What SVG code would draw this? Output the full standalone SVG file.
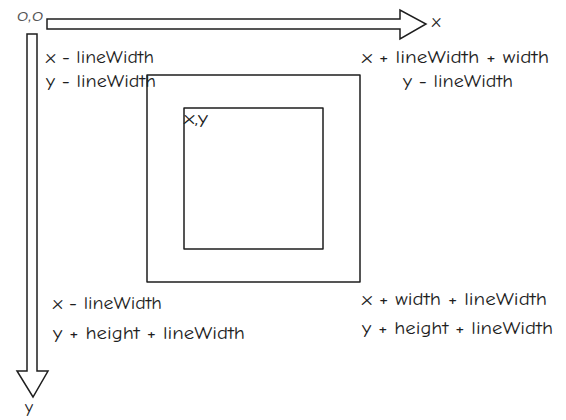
<svg xmlns="http://www.w3.org/2000/svg" width="566" height="420" viewBox="0 0 566 420">
  <style>
    .shape { fill: none; stroke: #1e1e1e; stroke-width: 1.5; stroke-linejoin: round; }
    .arrow { fill: #ffffff; stroke: #1e1e1e; stroke-width: 1.5; stroke-linejoin: miter; }
    .lbl { font-family: "Comic Neue", "Liberation Sans", Arial, sans-serif; font-size: 18px; fill: #1e1e1e; }
    .origin { font-family: "Liberation Sans", Arial, sans-serif; font-size: 12px; font-style: italic; fill: #555555; }
  </style>
  <rect width="566" height="420" fill="#ffffff"/>
  <g id="connectors">
    <g id="x-axis">
      <polygon class="arrow" points="47,19 400,19 400,10 426,24 400,39 400,29 47,29"/>
      <text class="lbl" x="432" y="27">x</text>
    </g>
    <g id="y-axis">
      <polygon class="arrow" points="27,34 37,34 37,371 48,371 33,397 17,371 27,371"/>
      <text class="lbl" x="25" y="413" font-size="20">y</text>
    </g>
  </g>
  <g id="origin">
    <text class="origin" x="17" y="21" textLength="26" lengthAdjust="spacingAndGlyphs">O,O</text>
  </g>
  <g id="outer-rect">
    <rect class="shape" x="147" y="75" width="213" height="207"/>
  </g>
  <g id="inner-rect">
    <rect class="shape" x="184" y="108" width="139" height="141"/>
    <text class="lbl" x="184" y="124" font-size="16" textLength="24" lengthAdjust="spacingAndGlyphs">x,y</text>
  </g>
  <g id="label-top-left">
    <text class="lbl" x="46" y="63" textLength="108" lengthAdjust="spacingAndGlyphs">x - lineWidth</text>
    <text class="lbl" x="46" y="87" textLength="110" lengthAdjust="spacingAndGlyphs">y - lineWidth</text>
  </g>
  <g id="label-top-right">
    <text class="lbl" x="362" y="63" textLength="187" lengthAdjust="spacingAndGlyphs">x + lineWidth + width</text>
    <text class="lbl" x="403" y="87" textLength="110" lengthAdjust="spacingAndGlyphs">y - lineWidth</text>
  </g>
  <g id="label-bottom-left">
    <text class="lbl" x="53" y="309" textLength="109" lengthAdjust="spacingAndGlyphs">x - lineWidth</text>
    <text class="lbl" x="53" y="339" textLength="192" lengthAdjust="spacingAndGlyphs">y + height + lineWidth</text>
  </g>
  <g id="label-bottom-right">
    <text class="lbl" x="362" y="305" textLength="185" lengthAdjust="spacingAndGlyphs">x + width + lineWidth</text>
    <text class="lbl" x="362" y="334" textLength="191" lengthAdjust="spacingAndGlyphs">y + height + lineWidth</text>
  </g>
</svg>
